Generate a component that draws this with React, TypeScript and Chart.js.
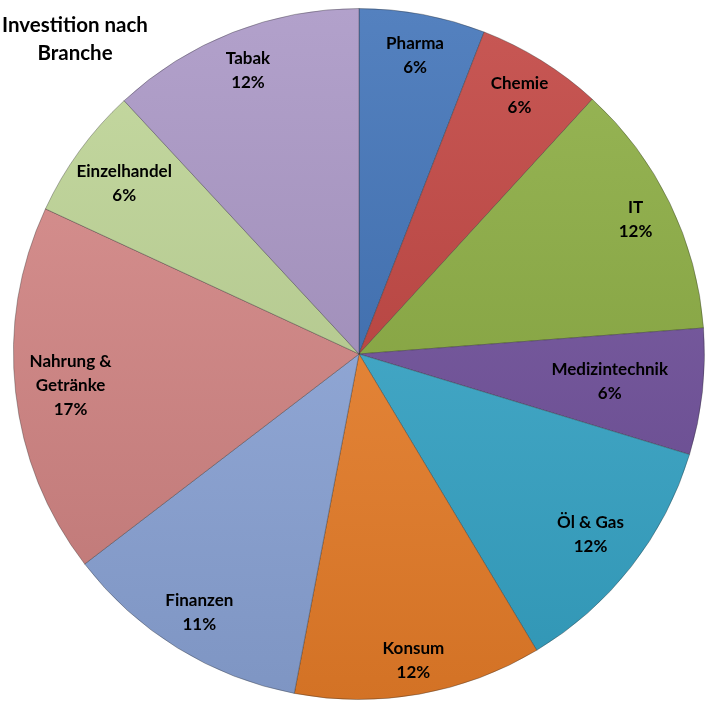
import React, { useEffect, useRef } from "react";
import { Chart, registerables } from "chart.js";

Chart.register(...registerables);

const categories = [
  "Pharma",
  "Chemie",
  "IT",
  "Medizintechnik",
  "Öl & Gas",
  "Konsum",
  "Finanzen",
  "Nahrung & Getränke",
  "Einzelhandel",
  "Tabak",
];
const labelLines = [
  ["Pharma"],
  ["Chemie"],
  ["IT"],
  ["Medizintechnik"],
  ["Öl & Gas"],
  ["Konsum"],
  ["Finanzen"],
  ["Nahrung &", "Getränke"],
  ["Einzelhandel"],
  ["Tabak"],
];
const values = [5.9, 5.9, 12.0, 5.9, 11.7, 11.6, 11.6, 17.3, 6.2, 11.9];
const percentLabels = ["6%", "6%", "12%", "6%", "12%", "12%", "11%", "17%", "6%", "12%"];
const colors = [
  "#386DB5",
  "#BF3D39",
  "#88AB3C",
  "#6F4E9C",
  "#36A9CC",
  "#F0822A",
  "#8FA9DE",
  "#D68584",
  "#BDD493",
  "#A692C2",
];
const titleLines = ["Investition nach", "Branche"];

function shade(hex: string, f: number) {
  const n = parseInt(hex.slice(1), 16);
  let r = (n >> 16) & 255, g = (n >> 8) & 255, b = n & 255;
  if (f >= 0) {
    r = r + (255 - r) * f; g = g + (255 - g) * f; b = b + (255 - b) * f;
  } else {
    r = r * (1 + f); g = g * (1 + f); b = b * (1 + f);
  }
  return `rgb(${Math.round(r)},${Math.round(g)},${Math.round(b)})`;
}

const labelRadius = [0.88, 0.88, 0.89, 0.73, 0.85, 0.9, 0.88, 0.84, 0.84, 0.88];

const labelPlugin = {
  id: "sliceLabels",
  afterDatasetsDraw(chart: any) {
    const ctx = chart.ctx;
    const meta = chart.getDatasetMeta(0);
    ctx.save();
    ctx.fillStyle = "#000";
    ctx.textAlign = "center";
    ctx.textBaseline = "middle";
    ctx.font = "bold 17px Lato, 'Open Sans', sans-serif";
    meta.data.forEach((arc: any, i: number) => {
      const { x, y, startAngle, endAngle, outerRadius } = arc.getProps(
        ["x", "y", "startAngle", "endAngle", "outerRadius"],
        true
      );
      const mid = (startAngle + endAngle) / 2;
      const r = outerRadius * labelRadius[i];
      const cx = x + Math.cos(mid) * r;
      const cy = y + Math.sin(mid) * r;
      const lines = [...labelLines[i], percentLabels[i]];
      const lh = 24;
      const top = cy - ((lines.length - 1) * lh) / 2;
      lines.forEach((t, k) => ctx.fillText(t, cx, top + k * lh));
    });
    ctx.font = "bold 20.5px Lato, 'Open Sans', sans-serif";
    titleLines.forEach((t, k) => ctx.fillText(t, 75, 25 + k * 28));
    ctx.restore();
  },
};

export default function App() {
  const ref = useRef<HTMLCanvasElement>(null);
  useEffect(() => {
    if (!ref.current) return;
    const chart = new Chart(ref.current, {
      type: "pie",
      data: {
        labels: categories,
        datasets: [
          {
            data: values,
            backgroundColor: (c: any) => {
              const base = colors[c.dataIndex];
              const area = c.chart.chartArea;
              if (!area) return base;
              const g = c.chart.ctx.createLinearGradient(0, area.top, 0, area.bottom);
              g.addColorStop(0, shade(base, 0.14));
              g.addColorStop(1, shade(base, -0.12));
              return g;
            },
            borderColor: "rgba(40,40,40,0.35)",
            borderWidth: 1,
          },
        ],
      },
      options: {
        responsive: false,
        animation: false,
        layout: { padding: { left: 13, right: 0, top: 8, bottom: 3 } },
        plugins: {
          legend: { display: false },
          tooltip: { enabled: false },
          title: { display: false },
        },
      },
      plugins: [labelPlugin],
    });
    return () => chart.destroy();
  }, []);
  return (
    <div style={{ position: "fixed", left: 0, top: 0, width: 705, height: 703, background: "#fff" }}>
      <canvas ref={ref} width={705} height={703} />
    </div>
  );
}
